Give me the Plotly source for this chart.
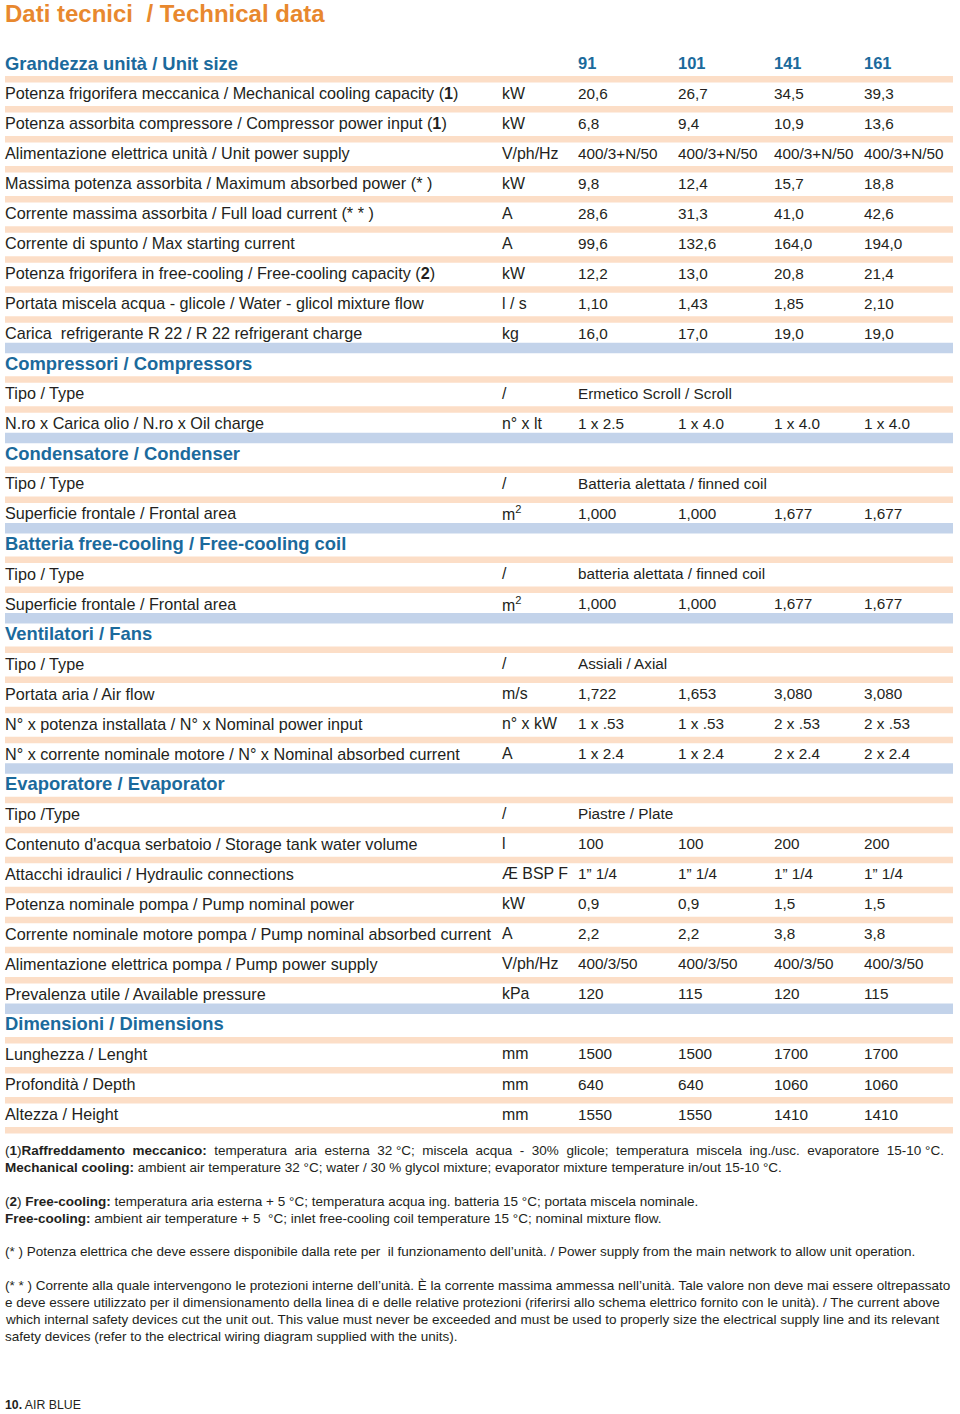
import plotly.graph_objects as go

# ---------------- data ----------------
row_kind = ["H", "D", "D", "D", "D", "D", "D", "D", "D", "D",
            "H", "D", "D",
            "H", "D", "D",
            "H", "D", "D",
            "H", "D", "D", "D", "D",
            "H", "D", "D", "D", "D", "D", "D", "D",
            "H", "D", "D", "D"]

labels = [
    "Grandezza unità / Unit size",
    "Potenza frigorifera meccanica / Mechanical cooling capacity (<b>1</b>)",
    "Potenza assorbita compressore / Compressor power input (<b>1</b>)",
    "Alimentazione elettrica unità / Unit power supply",
    "Massima potenza assorbita / Maximum absorbed power (* )",
    "Corrente massima assorbita / Full load current (* * )",
    "Corrente di spunto / Max starting current",
    "Potenza frigorifera in free-cooling / Free-cooling capacity (<b>2</b>)",
    "Portata miscela acqua - glicole / Water - glicol mixture flow",
    "Carica  refrigerante R 22 / R 22 refrigerant charge",
    "Compressori / Compressors",
    "Tipo / Type",
    "N.ro x Carica olio / N.ro x Oil charge",
    "Condensatore / Condenser",
    "Tipo / Type",
    "Superficie frontale / Frontal area",
    "Batteria free-cooling / Free-cooling coil",
    "Tipo / Type",
    "Superficie frontale / Frontal area",
    "Ventilatori / Fans",
    "Tipo / Type",
    "Portata aria / Air flow",
    "N° x potenza installata / N° x Nominal power input",
    "N° x corrente nominale motore / N° x Nominal absorbed current",
    "Evaporatore / Evaporator",
    "Tipo /Type",
    "Contenuto d'acqua serbatoio / Storage tank water volume",
    "Attacchi idraulici / Hydraulic connections",
    "Potenza nominale pompa / Pump nominal power",
    "Corrente nominale motore pompa / Pump nominal absorbed current",
    "Alimentazione elettrica pompa / Pump power supply",
    "Prevalenza utile / Available pressure",
    "Dimensioni / Dimensions",
    "Lunghezza / Lenght",
    "Profondità / Depth",
    "Altezza / Height",
]

units = ["", "kW", "kW", "V/ph/Hz", "kW", "A", "A", "kW", "l / s", "kg",
         "", "/", "n° x lt",
         "", "/", "m<sup>2</sup>",
         "", "/", "m<sup>2</sup>",
         "", "/", "m/s", "n° x kW", "A",
         "", "/", "l", "Æ BSP F", "kW", "A", "V/ph/Hz", "kPa",
         "", "mm", "mm", "mm"]

size_91 = ["91", "20,6", "6,8", "400/3+N/50", "9,8", "28,6", "99,6", "12,2", "1,10", "16,0",
           "", "Ermetico Scroll / Scroll", "1 x 2.5",
           "", "Batteria alettata / finned coil", "1,000",
           "", "batteria alettata / finned coil", "1,000",
           "", "Assiali / Axial", "1,722", "1 x .53", "1 x 2.4",
           "", "Piastre / Plate", "100", "1” 1/4", "0,9", "2,2", "400/3/50", "120",
           "", "1500", "640", "1550"]

size_101 = ["101", "26,7", "9,4", "400/3+N/50", "12,4", "31,3", "132,6", "13,0", "1,43", "17,0",
            "", "", "1 x 4.0",
            "", "", "1,000",
            "", "", "1,000",
            "", "", "1,653", "1 x .53", "1 x 2.4",
            "", "", "100", "1” 1/4", "0,9", "2,2", "400/3/50", "115",
            "", "1500", "640", "1550"]

size_141 = ["141", "34,5", "10,9", "400/3+N/50", "15,7", "41,0", "164,0", "20,8", "1,85", "19,0",
            "", "", "1 x 4.0",
            "", "", "1,677",
            "", "", "1,677",
            "", "", "3,080", "2 x .53", "2 x 2.4",
            "", "", "200", "1” 1/4", "1,5", "3,8", "400/3/50", "120",
            "", "1700", "1060", "1410"]

size_161 = ["161", "39,3", "13,6", "400/3+N/50", "18,8", "42,6", "194,0", "21,4", "2,10", "19,0",
            "", "", "1 x 4.0",
            "", "", "1,677",
            "", "", "1,677",
            "", "", "3,080", "2 x .53", "2 x 2.4",
            "", "", "200", "1” 1/4", "1,5", "3,8", "400/3/50", "115",
            "", "1700", "1060", "1410"]

title_text = "Dati tecnici  / Technical data"

footnotes = [
    "(<b>1</b>)<b>Raffreddamento  meccanico:</b>  temperatura  aria  esterna  32 °C;  miscela  acqua  -  30%  glicole;  temperatura  miscela  ing./usc.  evaporatore  15-10 °C.",
    "<b>Mechanical cooling:</b> ambient air temperature 32 °C; water / 30 % glycol mixture; evaporator mixture temperature in/out 15-10 °C.",
    "",
    "(<b>2</b>) <b>Free-cooling:</b> temperatura aria esterna + 5 °C; temperatura acqua ing. batteria 15 °C; portata miscela nominale.",
    "<b>Free-cooling:</b> ambient air temperature + 5  °C; inlet free-cooling coil temperature 15 °C; nominal mixture flow.",
    "",
    "(* ) Potenza elettrica che deve essere disponibile dalla rete per  il funzionamento dell’unità. / Power supply from the main network to allow unit operation.",
    "",
    "(* * ) Corrente alla quale intervengono le protezioni interne dell’unità. È la corrente massima ammessa nell’unità. Tale valore non deve mai essere oltrepassato",
    "e deve essere utilizzato per il dimensionamento della linea di e delle relative protezioni (riferirsi allo schema elettrico fornito con le unità). / The current above",
    "which internal safety devices cut the unit out. This value must never be exceeded and must be used to properly size the electrical supply line and its relevant",
    "safety devices (refer to the electrical wiring diagram supplied with the units).",
]

page_footer = "<b>10.</b> AIR BLUE"

# ---------------- styles ----------------
W, H = 960, 1414
ORANGE = "#E8882E"
BLUE = "#1B6A9C"
TEXT = "#231F20"
PEACH = "#FCDEC7"
BAND_BLUE = "#C3D3EA"
FONT = "Liberation Sans, Arial, sans-serif"

Y0, DY = 63, 30.03
X_LABEL, X_UNIT = 5, 502
X_COLS = [578, 678, 774, 864]

fig = go.Figure()
fig.add_trace(go.Scatter(x=[0, W], y=[0, H], mode="markers",
                         marker=dict(opacity=0), hoverinfo="skip", showlegend=False))

shapes = []
annotations = []

def add_text(x, y, text, size, color=TEXT, bold=False):
    annotations.append(dict(
        x=x, y=y, xref="x", yref="y", text=text, showarrow=False,
        xanchor="left", yanchor="middle", align="left",
        borderpad=0, borderwidth=0,
        font=dict(family=FONT, size=size, color=color,
                  weight="bold" if bold else "normal")))

# title
add_text(5, 13.5, title_text, 24, ORANGE, bold=True)

n = len(labels)
for i in range(n):
    y = Y0 + DY * i
    kind = row_kind[i]
    if kind == "H":
        add_text(X_LABEL, y, labels[i], 18.4, BLUE, bold=True)
        if i == 0:
            for xc, v in zip(X_COLS, [size_91[i], size_101[i], size_141[i], size_161[i]]):
                add_text(xc, y, v, 16.5, BLUE, bold=True)
    else:
        add_text(X_LABEL, y, labels[i], 16.2)
        add_text(X_UNIT, y, units[i], 15.9)
        for xc, v in zip(X_COLS, [size_91[i], size_101[i], size_141[i], size_161[i]]):
            if v:
                add_text(xc, y, v, 15.3)
    # band below the row
    nxt_header = (i + 1 < n and row_kind[i + 1] == "H")
    if nxt_header:
        shapes.append(dict(type="rect", xref="x", yref="y", x0=5, x1=953,
                           y0=y + 9.5, y1=y + 20, fillcolor=BAND_BLUE,
                           line=dict(width=0), layer="below"))
    else:
        shapes.append(dict(type="rect", xref="x", yref="y", x0=5, x1=953,
                           y0=y + 13, y1=y + 19.5, fillcolor=PEACH,
                           line=dict(width=0), layer="below"))

# footnotes
fy = 1150.5
for line in footnotes:
    if line:
        add_text(5, fy, line, 13.5)
    fy += 16.9

add_text(5, 1405, page_footer, 12.3)

fig.update_layout(
    width=W, height=H,
    margin=dict(l=0, r=0, t=0, b=0),
    paper_bgcolor="white", plot_bgcolor="white",
    xaxis=dict(range=[0, W], visible=False, fixedrange=True),
    yaxis=dict(range=[H, 0], visible=False, fixedrange=True),
    shapes=shapes, annotations=annotations,
    showlegend=False,
)

fig.write_html("out.html", config={"displayModeBar": False},
               post_script="document.body.style.margin='0';")
